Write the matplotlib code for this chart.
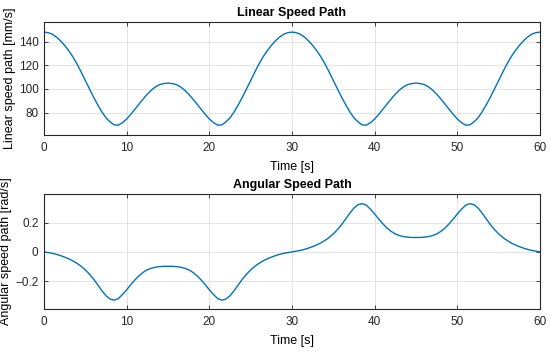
import numpy as np
import matplotlib.pyplot as plt

plt.rcParams['font.family'] = ['Liberation Sans', 'DejaVu Sans']

# time axis, 0.5 s steps
time_s = np.arange(0, 60.5, 0.5)

# linear speed [mm/s]
linear_speed = [
    148.0, 147.5, 146.2, 143.8, 140.6, 136.7, 132.2, 127.0, 121.0, 114.2,
    107.0, 100.0, 93.0, 86.5, 80.5, 75.5, 72.0, 69.5, 69.3, 71.5,
    74.5, 78.5, 82.8, 87.2, 91.5, 95.5, 99.0, 101.8, 103.6, 104.5,
    104.8, 104.5, 103.6, 101.8, 99.0, 95.5, 91.5, 87.2, 82.8, 78.5,
    74.5, 71.5, 69.3, 69.5, 72.0, 75.5, 80.5, 86.5, 93.0, 100.0,
    107.0, 114.2, 121.0, 127.0, 132.2, 136.7, 140.6, 143.8, 146.2, 147.5,
    148.0, 147.5, 146.2, 143.8, 140.6, 136.7, 132.2, 127.0, 121.0, 114.2,
    107.0, 100.0, 93.0, 86.5, 80.5, 75.5, 72.0, 69.5, 69.3, 71.5,
    74.5, 78.5, 82.8, 87.2, 91.5, 95.5, 99.0, 101.8, 103.6, 104.5,
    104.8, 104.5, 103.6, 101.8, 99.0, 95.5, 91.5, 87.2, 82.8, 78.5,
    74.5, 71.5, 69.3, 69.5, 72.0, 75.5, 80.5, 86.5, 93.0, 100.0,
    107.0, 114.2, 121.0, 127.0, 132.2, 136.7, 140.6, 143.8, 146.2, 147.5,
    148.0,
]

# angular speed [rad/s]
angular_speed = [
    0.000, -0.005, -0.010, -0.017, -0.026, -0.036, -0.048, -0.062, -0.079, -0.099,
    -0.124, -0.153, -0.187, -0.226, -0.266, -0.301, -0.324, -0.331, -0.320, -0.292,
    -0.260, -0.225, -0.192, -0.163, -0.140, -0.123, -0.112, -0.105, -0.101, -0.099,
    -0.099, -0.099, -0.101, -0.105, -0.112, -0.123, -0.140, -0.163, -0.192, -0.225,
    -0.260, -0.292, -0.320, -0.331, -0.324, -0.301, -0.266, -0.226, -0.187, -0.153,
    -0.124, -0.099, -0.079, -0.062, -0.048, -0.036, -0.026, -0.017, -0.010, -0.005,
    0.000, 0.005, 0.010, 0.017, 0.026, 0.036, 0.048, 0.062, 0.079, 0.099,
    0.124, 0.153, 0.187, 0.226, 0.266, 0.301, 0.324, 0.331, 0.320, 0.292,
    0.260, 0.225, 0.192, 0.163, 0.140, 0.123, 0.112, 0.105, 0.101, 0.099,
    0.099, 0.099, 0.101, 0.105, 0.112, 0.123, 0.140, 0.163, 0.192, 0.225,
    0.260, 0.292, 0.320, 0.331, 0.324, 0.301, 0.266, 0.226, 0.187, 0.153,
    0.124, 0.099, 0.079, 0.062, 0.048, 0.036, 0.026, 0.017, 0.010, 0.005,
    0.000,
]

x_ticks = [0, 10, 20, 30, 40, 50, 60]
lin_ticks = [80, 100, 120, 140]
ang_ticks = [-0.2, 0, 0.2]

line_col = '#0072BD'
axis_col = '#262626'


def style_axes(ax):
    ax.grid(True, color='#dedede', linewidth=0.6)
    ax.set_axisbelow(True)
    for sp in ax.spines.values():
        sp.set_color(axis_col)
        sp.set_linewidth(0.8)
    ax.tick_params(direction='in', top=True, right=True, length=3,
                   width=0.6, colors=axis_col, labelsize=8.5)
    ax.tick_params(axis='x', pad=5)
    ax.tick_params(axis='y', pad=4)
    ax.set_xlim(0, 60)
    ax.set_xticks(x_ticks)


fig = plt.figure(figsize=(5.5, 3.53), dpi=100)

ax1 = fig.add_axes([0.08, 0.6176, 0.9018, 0.32])
ax1.plot(time_s, linear_speed, color=line_col, linewidth=1.0)
style_axes(ax1)
ax1.set_ylim(61, 156.5)
ax1.set_yticks(lin_ticks)
ax1.set_title('Linear Speed Path', fontsize=9, fontweight='bold', pad=4)
ax1.set_xlabel('Time [s]', fontsize=9, labelpad=5)
ax1.set_ylabel('Linear speed path [mm/s]', fontsize=9, labelpad=2)

ax2 = fig.add_axes([0.08, 0.1246, 0.9018, 0.3258])
ax2.plot(time_s, angular_speed, color=line_col, linewidth=1.0)
style_axes(ax2)
ax2.set_ylim(-0.392, 0.397)
ax2.set_yticks(ang_ticks)
ax2.set_yticklabels(['\u22120.2', '0', '0.2'])
ax2.set_title('Angular Speed Path', fontsize=9, fontweight='bold', pad=4)
ax2.set_xlabel('Time [s]', fontsize=9, labelpad=5)
ax2.set_ylabel('Angular speed path [rad/s]', fontsize=9, labelpad=2)

fig.savefig('out.png', dpi=100)
